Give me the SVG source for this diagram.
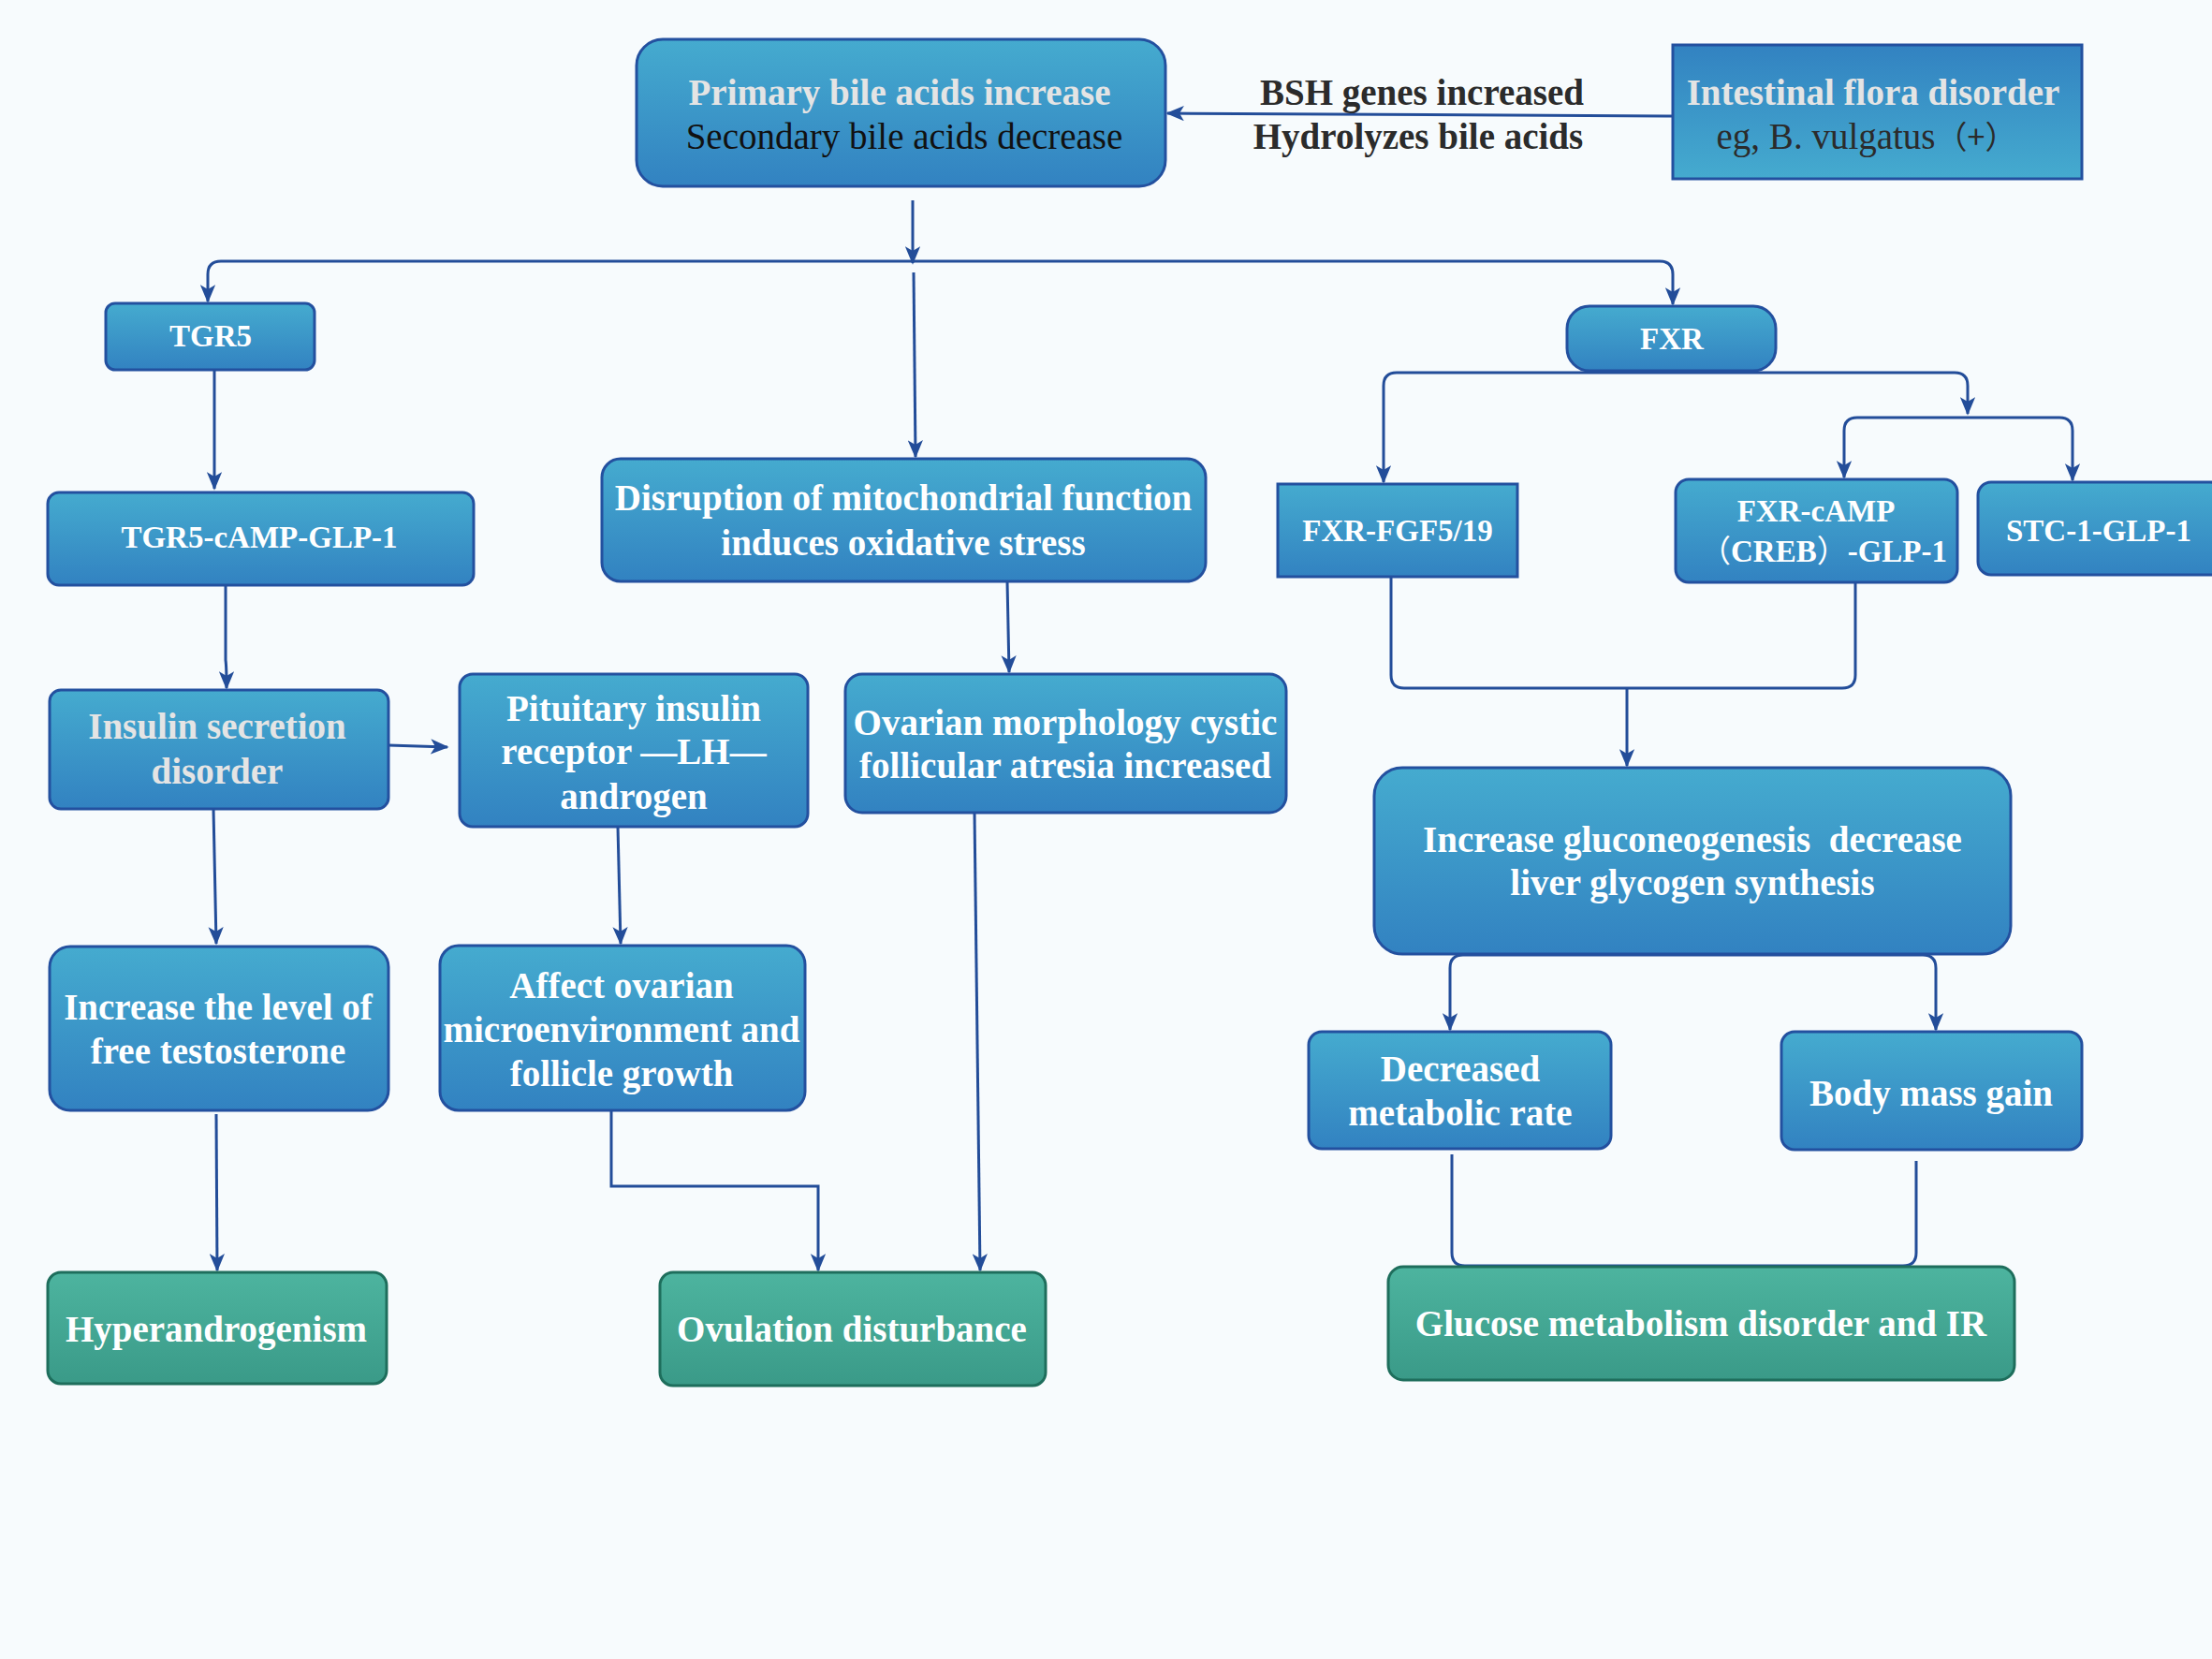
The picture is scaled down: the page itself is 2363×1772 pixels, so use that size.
<svg xmlns="http://www.w3.org/2000/svg" width="2363" height="1772" viewBox="0 0 2363 1772">
<defs>
<linearGradient id="gb" x1="0" y1="0" x2="0" y2="1"><stop offset="0" stop-color="#45abcf"/><stop offset="1" stop-color="#3282c1"/></linearGradient>
<linearGradient id="gbr" x1="0" y1="0" x2="0" y2="1"><stop offset="0" stop-color="#3282c1"/><stop offset="1" stop-color="#45abcf"/></linearGradient>
<linearGradient id="gg" x1="0" y1="0" x2="0" y2="1"><stop offset="0" stop-color="#4db49f"/><stop offset="1" stop-color="#3a9a88"/></linearGradient>
<marker id="ah" viewBox="0 0 12 10" refX="11" refY="5" markerWidth="6.5" markerHeight="5.5" orient="auto" markerUnits="strokeWidth"><path d="M0,0 L12,5 L0,10 L3,5 z" fill="#234d99"/></marker>
</defs>
<style>
.b{fill:url(#gb);stroke:#23509f;stroke-width:3}
.br{fill:url(#gbr);stroke:#23509f;stroke-width:3}
.g{fill:url(#gg);stroke:#1e6e5c;stroke-width:3}
.t{font-family:"Liberation Serif","Times New Roman",serif;font-weight:bold;font-size:39px;fill:#ffffff;text-anchor:middle}
.s{font-size:33px}
.gr{fill:#e4e4e4}
.k{font-weight:normal;fill:#111111}
.d{fill:#2b2b2b}
.c{fill:none;stroke:#234d99;stroke-width:3}
.a{marker-end:url(#ah)}
</style>
<rect width="2363" height="1772" fill="#f7fbfd"/>
<g id="connectors">
<path class="c a" d="M1787,124 L1247,121"/>
<path class="c a" d="M975,214 L975,281"/>
<path class="c a" d="M975,279 L236,279 Q222,279 222,293 L222,322"/>
<path class="c a" d="M975,279 L1773,279 Q1787,279 1787,293 L1787,325"/>
<path class="c a" d="M976,291 L978,488"/>
<path class="c a" d="M229,395 L229,522"/>
<path class="c a" d="M241,625 L241,705 Q242,712 242,735"/>
<path class="c a" d="M415,796 L478,798"/>
<path class="c a" d="M228,864 L231,1008"/>
<path class="c a" d="M231,1190 L232,1357"/>
<path class="c a" d="M660,883 L663,1008"/>
<path class="c a" d="M653,1186 L653,1267 L874,1267 L874,1357"/>
<path class="c a" d="M1041,868 L1047,1357"/>
<path class="c a" d="M1076,621 L1078,718"/>
<path class="c a" d="M1786,398 L1492,398 Q1478,398 1478,412 L1478,515"/>
<path class="c a" d="M1786,398 L2088,398 Q2102,398 2102,412 L2102,442"/>
<path class="c a" d="M2102,446 L1984,446 Q1970,446 1970,460 L1970,510"/>
<path class="c a" d="M2102,446 L2200,446 Q2214,446 2214,460 L2214,513"/>
<path class="c" d="M1486,616 L1486,721 Q1486,735 1500,735 L1968,735 Q1982,735 1982,721 L1982,622"/>
<path class="c a" d="M1738,735 L1738,818"/>
<path class="c a" d="M1808,1020 L1563,1020 Q1549,1020 1549,1034 L1549,1100"/>
<path class="c a" d="M1808,1020 L2054,1020 Q2068,1020 2068,1034 L2068,1100"/>
<path class="c" d="M1551,1233 L1551,1338 Q1551,1352 1565,1352 L2033,1352 Q2047,1352 2047,1338 L2047,1240"/>
</g>
<g id="n-primary"><rect class="b" x="680" y="42" width="565" height="157" rx="28"/><text class="t gr" x="961" y="112">Primary bile acids increase</text><text class="t k" x="966" y="159">Secondary bile acids decrease</text></g>
<g id="n-flora"><rect class="br" x="1787" y="48" width="437" height="143"/><text class="t gr" x="2001" y="112">Intestinal flora disorder</text><text class="t k d" x="1994" y="159">eg, B. vulgatus<tspan font-family="'Noto Sans CJK SC',sans-serif" font-size="34">（+）</tspan></text></g>
<g id="label-bsh"><text class="t d" x="1519" y="112">BSH genes increased</text><text class="t d" x="1515" y="159">Hydrolyzes bile acids</text></g>
<g id="n-tgr5"><rect class="b" x="113" y="324" width="223" height="71" rx="10"/><text class="t s" x="225" y="370">TGR5</text></g>
<g id="n-fxr"><rect class="b" x="1674" y="327" width="223" height="69" rx="24"/><text class="t s" x="1786" y="373">FXR</text></g>
<g id="n-tgr5camp"><rect class="b" x="51" y="526" width="455" height="99" rx="12"/><text class="t s" x="277" y="585">TGR5-cAMP-GLP-1</text></g>
<g id="n-mito"><rect class="b" x="643" y="490" width="645" height="131" rx="20"/><text class="t" x="965" y="545">Disruption of mitochondrial function</text><text class="t" x="965" y="593">induces oxidative stress</text></g>
<g id="n-fgf"><rect class="b" x="1365" y="517" width="256" height="99"/><text class="t s" x="1493" y="578">FXR-FGF5/19</text></g>
<g id="n-fxrcamp"><rect class="b" x="1790" y="512" width="301" height="110" rx="14"/><text class="t s" x="1940" y="557">FXR-cAMP</text><text class="t s" x="1948" y="600"><tspan font-family="'Noto Sans CJK SC',sans-serif" font-weight="normal">（</tspan>CREB<tspan font-family="'Noto Sans CJK SC',sans-serif" font-weight="normal">）</tspan>-GLP-1</text></g>
<g id="n-stc"><rect class="b" x="2113" y="515" width="262" height="99" rx="14"/><text class="t s" x="2242" y="578">STC-1-GLP-1</text></g>
<g id="n-insulin"><rect class="b" x="53" y="737" width="362" height="127" rx="12"/><text class="t gr" x="232" y="789">Insulin secretion</text><text class="t gr" x="232" y="837">disorder</text></g>
<g id="n-pituitary"><rect class="b" x="491" y="720" width="372" height="163" rx="14"/><text class="t" x="677" y="770">Pituitary insulin</text><text class="t" x="677" y="816">receptor —LH—</text><text class="t" x="677" y="864">androgen</text></g>
<g id="n-ovarian"><rect class="b" x="903" y="720" width="471" height="148" rx="18"/><text class="t" x="1138" y="785">Ovarian morphology cystic</text><text class="t" x="1138" y="831">follicular atresia increased</text></g>
<g id="n-gluco"><rect class="b" x="1468" y="820" width="680" height="199" rx="30"/><text class="t" x="1808" y="910">Increase gluconeogenesis&#160; decrease</text><text class="t" x="1808" y="956">liver glycogen synthesis</text></g>
<g id="n-testo"><rect class="b" x="53" y="1011" width="362" height="175" rx="22"/><text class="t" x="233" y="1089">Increase the level of</text><text class="t" x="233" y="1136">free testosterone</text></g>
<g id="n-affect"><rect class="b" x="470" y="1010" width="390" height="176" rx="20"/><text class="t" x="664" y="1066">Affect ovarian</text><text class="t" x="664" y="1113">microenvironment and</text><text class="t" x="664" y="1160">follicle growth</text></g>
<g id="n-metab"><rect class="b" x="1398" y="1102" width="323" height="125" rx="14"/><text class="t" x="1560" y="1155">Decreased</text><text class="t" x="1560" y="1202">metabolic rate</text></g>
<g id="n-body"><rect class="b" x="1903" y="1102" width="321" height="126" rx="14"/><text class="t" x="2063" y="1181">Body mass gain</text></g>
<g id="n-hyper"><rect class="g" x="51" y="1359" width="362" height="119" rx="14"/><text class="t" x="231" y="1433">Hyperandrogenism</text></g>
<g id="n-ovulation"><rect class="g" x="705" y="1359" width="412" height="121" rx="14"/><text class="t" x="910" y="1433">Ovulation disturbance</text></g>
<g id="n-glucose"><rect class="g" x="1483" y="1353" width="669" height="121" rx="16"/><text class="t" x="1817" y="1427">Glucose metabolism disorder and IR</text></g>
</svg>
